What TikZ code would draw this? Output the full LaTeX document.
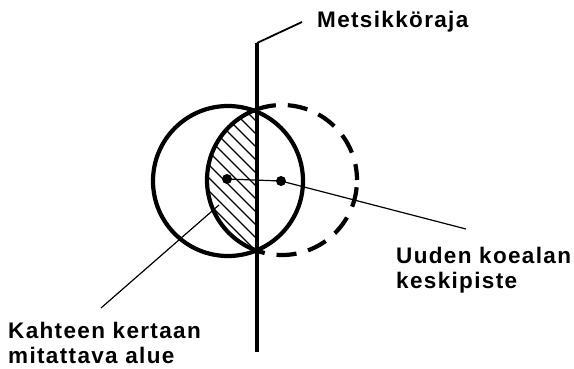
\documentclass[tikz,border=0pt]{standalone}
\usepackage{fontspec}
\setmainfont{Liberation Sans}[LetterSpace=6]
\begin{document}
\begin{tikzpicture}[x=1pt,y=-1pt,
  thickline/.style={line width=4.2pt},
  leader/.style={line width=1.2pt},
  hatch/.style={line width=1.3pt},
  dot/.style={circle,fill,inner sep=0pt,minimum size=10pt},
  lbl/.style={font=\fontsize{22.5}{25}\selectfont\bfseries,align=left,inner sep=0pt}]
\useasboundingbox (0,0) rectangle (574,368);
\coordinate (ca) at (228,181);
\coordinate (cb) at (282,180);
% hatched area
\begin{scope}
  \clip (cb) circle (75pt);
  \clip (150,0) rectangle (257,368);
  \foreach \c in {-60,-47,...,170}
    \draw[hatch] (\c+95,95) -- (\c+265,265);
\end{scope}
% circles
\draw[thickline] (ca) circle (75pt);
\begin{scope}
  \clip (0,0) rectangle (257,368);
  \draw[thickline] (cb) circle (75pt);
\end{scope}
\begin{scope}
  \clip (257,0) rectangle (574,368);
  \draw[thickline,dash pattern=on 20pt off 12pt,dash phase=4pt] (cb) circle (75pt);
\end{scope}
% border line
\coordinate (bb) at (257,352);
\coordinate (bk) at (257,43);
\coordinate (bs) at (302,22);
\draw[thickline] (bb) -- (bk);
\draw[line width=1.8pt] (bk) -- (bs);
% dots
\node[dot] (d1) at (227,179) {};
\node[dot] (d2) at (281,181) {};
\draw[leader] (d1.center) -- (d2.center);
\coordinate (e2) at (466,229);
\draw[leader] (d2.center) -- (e2);
\coordinate (e1a) at (219,205);
\coordinate (e1b) at (101,308);
\draw[leader] (e1a) -- (e1b);
% labels
\node[lbl,anchor=base west] (lm) at (317,27) {Metsikköraja};
\node[lbl,anchor=north west] (lu) at (396,247) {Uuden koealan\\keskipiste};
\node[lbl,anchor=north west] (lk) at (8,322) {Kahteen kertaan\\mitattava alue};
\end{tikzpicture}
\end{document}
